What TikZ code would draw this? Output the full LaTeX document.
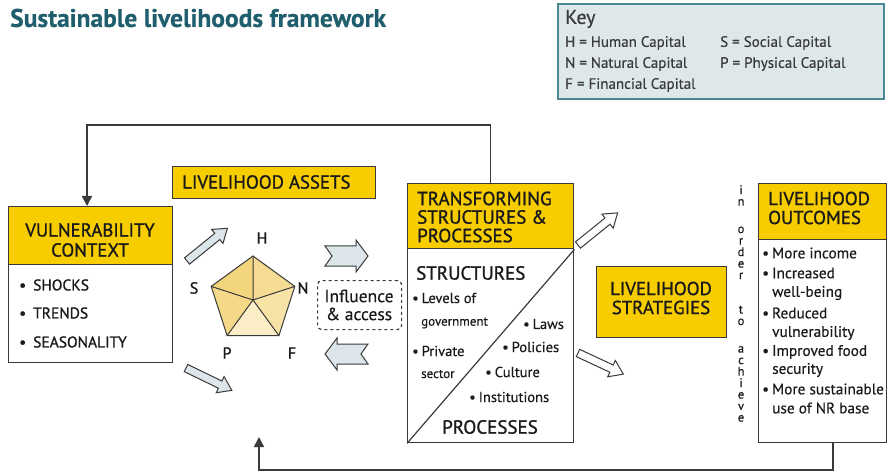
\documentclass[tikz,border=0pt]{standalone}
\usepackage{fontspec}
\setmainfont{PT Sans}[FakeBold=0.4]
\newfontfamily\hdfont{PT Sans}[FakeBold=1.2]
\usetikzlibrary{arrows.meta}
\definecolor{ylw}{HTML}{F8CD00}
\definecolor{keyfill}{HTML}{DEE8EA}
\definecolor{keyline}{HTML}{4C8794}
\definecolor{titlec}{HTML}{1F5E6C}
\definecolor{arrfill}{HTML}{DCE6EA}
\definecolor{linec}{HTML}{3A3A3A}
\definecolor{txtc}{HTML}{1A1A1A}
\definecolor{pA}{HTML}{F3D57E}
\definecolor{pB}{HTML}{F6DC92}
\definecolor{pC}{HTML}{F8E3A6}
\definecolor{pD}{HTML}{FBEDC6}
\definecolor{pE}{HTML}{F5D988}
\newcommand\fsz[2]{\fontsize{#1}{#2}\selectfont}
\newcommand\blkarr[5]{%
  \begin{scope}[shift={(#1,#2)}, rotate=#3]
    \draw[blk, fill=#5] (0,4) -- ({#4-13},4) -- ({#4-13},9) -- (#4,0) -- ({#4-13},-9) -- ({#4-13},-4) -- (0,-4) -- cycle;
  \end{scope}}
\tikzset{
  boxo/.style={draw=linec, line width=1.4pt, anchor=north west, inner sep=0pt},
  hdr/.style={fill=ylw, draw=linec, line width=1.4pt, anchor=north west, inner sep=0pt},
  fb/.style={draw=linec, line width=1.5pt, -{Triangle[length=10pt,width=10pt]}},
  blk/.style={draw=linec, line width=1pt, line join=miter},
  hd/.style={inner sep=0pt, text=txtc, font=\hdfont\fsz{18.8}{19}},
  lt/.style={anchor=west, inner sep=0pt, text=txtc},
  kt/.style={anchor=west, inner sep=0pt, text=linec, font=\fsz{15}{16}},
  pl/.style={inner sep=0pt, text=txtc, font=\hdfont\fsz{16}{18}},
}
\begin{document}
\begin{tikzpicture}[x=1pt,y=-1pt]
\useasboundingbox (0,0) rectangle (889,473);
% title
\node[lt, text=titlec, font=\fsz{25.5}{27}\bfseries] (title) at (10,18) {Sustainable livelihoods framework};
% key
\node[draw=keyline, fill=keyfill, line width=2pt, minimum width=326pt, minimum height=95pt, anchor=north west, inner sep=0pt] (key) at (557,3) {};
\node[kt, font=\fsz{20}{21}] (keyt) at (565,19) {Key};
\node[kt] (k1) at (565,43) {H = Human Capital};
\node[kt] (k2) at (720,43) {S = Social Capital};
\node[kt] (k3) at (565,64) {N = Natural Capital};
\node[kt] (k4) at (720,64) {P = Physical Capital};
\node[kt] (k5) at (565,85) {F = Financial Capital};
% vulnerability context
\node[hdr, minimum width=164pt, minimum height=58pt] (vulh) at (8,206) {};
\node[boxo, minimum width=164pt, minimum height=156pt] (vul) at (8,206) {};
\node[hd, align=center, font=\hdfont\fsz{18.8}{20}] (vult) at (90,240) {VULNERABILITY\\CONTEXT};
\node[lt, font=\hdfont\fsz{15.5}{17}] (v1) at (19,285) {\textbullet\hspace{7pt}SHOCKS};
\node[lt, font=\hdfont\fsz{15.5}{17}] (v2) at (19,313) {\textbullet\hspace{7pt}TRENDS};
\node[lt, font=\hdfont\fsz{15.5}{17}] (v3) at (19,342) {\textbullet\hspace{7pt}SEASONALITY};
% livelihood assets
\node[hdr, minimum width=203pt, minimum height=32pt] (ass) at (172,166) {};
\node[lt, font=\hdfont\fsz{18.8}{19}] (asst) at (182,182) {LIVELIHOOD ASSETS};
% pentagon
\coordinate (pc) at (253,300);
\coordinate (pH) at (253,256);
\coordinate (pN) at (294.8,286.4);
\coordinate (pF) at (278.9,335.6);
\coordinate (pP) at (227.1,335.6);
\coordinate (pS) at (211.2,286.4);
\fill[pA] (pc) -- (pS) -- (pH) -- cycle;
\fill[pB] (pc) -- (pH) -- (pN) -- cycle;
\fill[pC] (pc) -- (pN) -- (pF) -- cycle;
\fill[pD] (pc) -- (pF) -- (pP) -- cycle;
\fill[pE] (pc) -- (pP) -- (pS) -- cycle;
\draw[draw=linec, line width=1pt, line join=miter] (pH) -- (pN) -- (pF) -- (pP) -- (pS) -- cycle;
\draw[draw=linec, line width=1pt] (pc) -- (pH) (pc) -- (pN) (pc) -- (pF) (pc) -- (pP) (pc) -- (pS);
\node[pl] (lH) at (262,238) {H};
\node[pl] (lN) at (303,288) {N};
\node[pl] (lF) at (292,353) {F};
\node[pl] (lP) at (227,353) {P};
\node[pl] (lS) at (194,288) {S};
% assets arrows
\blkarr{187}{261}{39}{52}{arrfill}
\blkarr{186}{368}{-26}{51}{arrfill}
% chevrons
\draw[blk, fill=arrfill] (325,246) -- (356,246) -- (356,240) -- (368,256) -- (356,272) -- (356,266) -- (325,266) -- (332,256) -- cycle;
\draw[blk, fill=arrfill] (325,354) -- (337,338) -- (337,344) -- (368,344) -- (361,354) -- (368,364) -- (337,364) -- (337,370) -- cycle;
% influence
\node[draw=linec, dashed, rounded corners=4pt, line width=1.2pt, minimum width=84pt, minimum height=49pt, anchor=north west, inner sep=0pt] (infl) at (317,280) {};
\node[inner sep=0pt, align=center, text=txtc, font=\fsz{17.5}{18}] (inflt) at (359,305) {Influence\\\& access};
% transforming structures
\node[hdr, minimum width=166pt, minimum height=65pt] (tsph) at (407,183) {};
\node[boxo, minimum width=166pt, minimum height=259pt] (tsp) at (407,183) {};
\draw[draw=linec, line width=1.2pt] (tsph.south east) -- (tsp.south west);
\node[lt, align=left, font=\hdfont\fsz{19}{18.5}] (tspt) at (417,217) {TRANSFORMING\\STRUCTURES \&\\PROCESSES};
\node[lt, font=\hdfont\fsz{19}{19}] (str) at (416,273) {STRUCTURES};
\node[lt, font=\fsz{14.5}{15}] (s1) at (412,298) {\textbullet\hspace{3pt}Levels of};
\node[lt, font=\fsz{13}{14}] (s2) at (421,323) {government};
\node[lt, font=\fsz{14.5}{15}] (s3) at (412,351) {\textbullet\hspace{3pt}Private};
\node[lt, font=\fsz{13}{14}] (s4) at (421,374) {sector};
\node[lt, font=\fsz{14.5}{15}] (s5) at (523,324) {\textbullet\hspace{3pt}Laws};
\node[lt, font=\fsz{14.5}{15}] (s6) at (502,347) {\textbullet\hspace{3pt}Policies};
\node[lt, font=\fsz{14.5}{15}] (s7) at (485,372) {\textbullet\hspace{3pt}Culture};
\node[lt, font=\fsz{14.5}{15}] (s8) at (469,397) {\textbullet\hspace{3pt}Institutions};
\node[hd, font=\hdfont\fsz{19}{19}] (proc) at (490,427) {PROCESSES};
% strategy arrows
\blkarr{578}{245}{39}{51}{white}
\blkarr{578}{353}{-25}{50}{white}
% livelihood strategies
\node[hdr, minimum width=130pt, minimum height=71pt] (strat) at (596,266) {};
\node[hd, align=center] (stratt) at (661,298) {LIVELIHOOD\\STRATEGIES};
% in order to achieve
\node[inner sep=0pt, anchor=north, align=center, text=txtc, font=\fsz{12.5}{11.5}] (vtext) at (741,185) {i\\n\\[16pt]o\\r\\d\\e\\r\\[23pt]t\\o\\[16pt]a\\c\\h\\i\\e\\v\\e};
% outcomes
\node[hdr, minimum width=128pt, minimum height=56pt] (outh) at (758,183) {};
\node[boxo, minimum width=128pt, minimum height=259pt] (outc) at (758,183) {};
\node[lt, align=left, font=\hdfont\fsz{18.8}{19}] (outt) at (768,208) {LIVELIHOOD\\OUTCOMES};
\node[lt, font=\fsz{15.3}{16}] (o1) at (762,253) {\textbullet\hspace{3pt}More income};
\node[lt, font=\fsz{15.3}{16}] (o2) at (762,273) {\textbullet\hspace{3pt}Increased};
\node[lt, font=\fsz{15.3}{16}] (o3) at (772,293) {well-being};
\node[lt, font=\fsz{15.3}{16}] (o4) at (762,313) {\textbullet\hspace{3pt}Reduced};
\node[lt, font=\fsz{15.3}{16}] (o5) at (772,333) {vulnerability};
\node[lt, font=\fsz{15.3}{16}] (o6) at (762,352) {\textbullet\hspace{3pt}Improved food};
\node[lt, font=\fsz{15.3}{16}] (o7) at (772,370) {security};
\node[lt, font=\fsz{15.3}{16}] (o8) at (762,389) {\textbullet\hspace{3pt}More sustainable};
\node[lt, font=\fsz{15.3}{16}] (o9) at (772,408) {use of NR base};
% feedback connectors
\coordinate (tl) at (87,125);
\draw[fb] (tsp.north) |- (tl) -- (tl |- vul.north);
\coordinate (br) at (833,470);
\coordinate (bl) at (259,470);
\coordinate (ba) at (259,437);
\draw[fb] (outc.south -| br) |- (bl) -- (ba);
\end{tikzpicture}
\end{document}
